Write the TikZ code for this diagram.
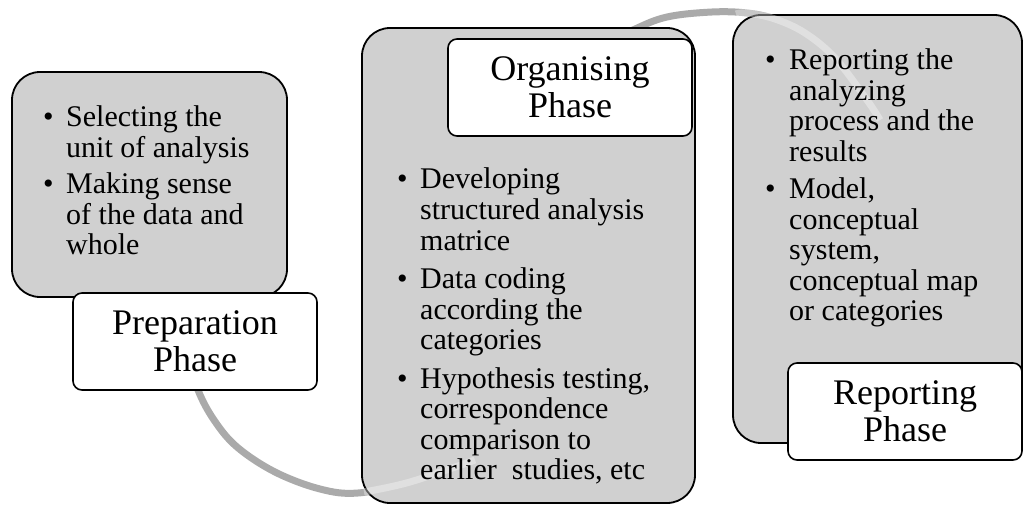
\documentclass[tikz,border=0pt]{standalone}
\usepackage{fontspec}
\setmainfont{Liberation Serif}
\definecolor{boxgray}{RGB}{208,208,208}
\definecolor{arcgray}{RGB}{170,170,170}
\begin{document}
\begin{tikzpicture}[x=1pt,y=-1pt,
  phasebox/.style={draw=black, line width=1.8pt, fill=boxgray, rounded corners=28pt, inner sep=0pt},
  phaselabel/.style={draw=black, line width=1.6pt, fill=white, rounded corners=9pt, inner sep=0pt, align=center, font=\fontsize{36}{37}\selectfont},
  bodytext/.style={anchor=base west, inner sep=0pt, font=\fontsize{30}{30.5}\selectfont},
  arcline/.style={draw=arcgray, line width=7pt},
  arcglow/.style={draw=white, line width=7pt, opacity=0.35}]
\useasboundingbox (0,0) rectangle (1024,505);

% background arc
\draw[arcline] plot[smooth, tension=0.6] coordinates {(188,355) (198,390) (214,420) (237,447) (275,472) (320,489) (358,493) (410,482) (475,460)};
\draw[arcline] plot[smooth, tension=0.6] coordinates {(590,52) (633,30) (667,17) (712,12) (747,13) (775,19) (805,33) (835,58) (867,100) (880,120)};

% phase boxes
\node[phasebox, minimum width=275pt, minimum height=225pt] (box1) at (149.5,184.5) {};
\node[phasebox, minimum width=333pt, minimum height=475pt] (box2) at (528.5,265.5) {};
\node[phasebox, minimum width=289pt, minimum height=428pt] (box3) at (877.5,229) {};

% faint arc showing through the boxes
\draw[arcglow] plot[smooth, tension=0.6] coordinates {(364,492) (410,482) (475,460)};
\draw[arcglow] plot[smooth, tension=0.6] coordinates {(736,14) (747,13) (775,19) (805,33) (835,58) (867,100) (880,120)};

% labels
\node[phaselabel, minimum width=244pt, minimum height=97pt] (lab1) at (195,341.5) {Preparation\\Phase};
\node[phaselabel, minimum width=244pt, minimum height=97pt] (lab2) at (570,87.5) {Organising\\Phase};
\node[phaselabel, minimum width=234pt, minimum height=97pt] (lab3) at (905,411.5) {Reporting\\Phase};

% bullet texts
\node[bodytext] (txt1) at (43,127) {\begin{tabular}[t]{@{}l@{\hspace{12.5pt}}l@{}}
\textbullet & Selecting the\\
 & unit of analysis\\[6pt]
\textbullet & Making sense\\
 & of the data and\\
 & whole
\end{tabular}};
\node[bodytext] (txt2) at (397,189) {\begin{tabular}[t]{@{}l@{\hspace{12.5pt}}l@{}}
\textbullet & Developing\\
 & structured analysis\\
 & matrice\\[8pt]
\textbullet & Data coding\\
 & according the\\
 & categories\\[8pt]
\textbullet & Hypothesis testing,\\
 & correspondence\\
 & comparison to\\
 & earlier\ \ studies, etc
\end{tabular}};
\node[bodytext] (txt3) at (765,70) {\begin{tabular}[t]{@{}l@{\hspace{13.5pt}}l@{}}
\textbullet & Reporting the\\
 & analyzing\\
 & process and the\\
 & results\\[7pt]
\textbullet & Model,\\
 & conceptual\\
 & system,\\
 & conceptual map\\
 & or categories
\end{tabular}};
\end{tikzpicture}
\end{document}
